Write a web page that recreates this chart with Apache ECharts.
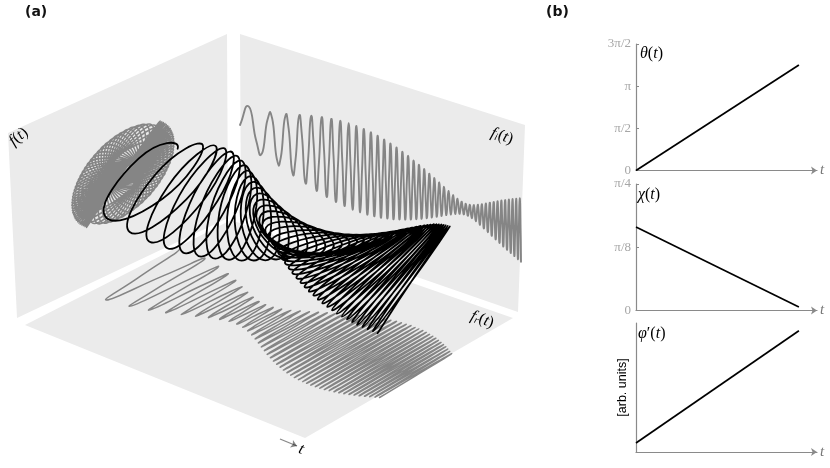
<!DOCTYPE html>
<html>
<head>
<meta charset="utf-8">
<style>
  html, body { margin: 0; padding: 0; background: #fff; }
  #chart { width: 830px; height: 468px; }
</style>
<script src="https://cdn.jsdelivr.net/npm/echarts@6/dist/echarts.min.js"></script>
</head>
<body>
<div id="chart"></div>
<script>
// f(t), sampled four times per turn: time, real part, imaginary part
const tValues = [
  0, .0316, .0568, .0783, .0974, .1147, .1307, .1456, .1597, .173, .1857, .1978, .2094, .2206, .2316, .242,
  .2522, .262, .2716, .281, .2902, .299, .3078, .3163, .3247, .3328, .3409, .3488, .3565, .3641, .3717, .3791,
  .3863, .3935, .4006, .4075, .4144, .4212, .4278, .4345, .441, .4474, .4537, .46, .4662, .4724, .4785, .4845,
  .4904, .4964, .5022, .508, .5137, .5194, .5251, .5306, .5361, .5416, .547, .5524, .5578, .563, .5683, .5735,
  .5787, .5838, .5889, .5939, .5989, .6039, .6089, .6138, .6187, .6235, .6284, .6331, .6378, .6425, .6472, .6519,
  .6565, .6612, .6658, .6702, .6748, .6794, .6838, .6882, .6927, .697, .7014, .7057, .7101, .7144, .7186, .7229,
  .7272, .7313, .7355, .7396, .7438, .7479, .7521, .7561, .7603, .7643, .7683, .7723, .7763, .7802, .7842, .7881,
  .792, .796, .7999, .8037, .8075, .8114, .8152, .819, .8227, .8266, .8303, .8341, .8378, .8414, .8452, .8489,
  .8525, .8562, .8598, .8634, .867, .8706, .8742, .8778, .8813, .8849, .8884, .892, .8954, .8989, .9025, .906,
  .9094, .9129, .9162, .9197, .9231, .9265, .9299, .9332, .9366, .94, .9433, .9467, .95, .9533, .9566, .9598,
  .9632, .9665, .9697, .973, .9762, .9794, .9827, .9859, .9891, .9922, .9954, .9986, 1
]
const realValues = [
  .865, -.059, -.855, .14, .823, -.195, -.776, .236, .728, -.265, -.674, .29, .619, -.305, -.561, .319,
  .505, -.328, -.445, .333, .387, -.339, -.329, .338, .271, -.338, -.214, .337, .159, -.332, -.104, .327,
  .05, -.322, .002, .316, -.054, -.307, .103, .299, -.153, -.292, .199, .282, -.245, -.273, .29, .264,
  -.333, -.255, .376, .245, -.415, -.234, .454, .224, -.491, -.214, .529, .204, -.562, -.194, .594, .183,
  -.625, -.174, .656, .164, -.686, -.154, .711, .145, -.736, -.136, .76, .127, -.784, -.118, .807, .109,
  -.826, -.101, .844, .093, -.862, -.085, .879, .077, -.896, -.07, .912, .063, -.922, -.056, .932, .05,
  -.943, -.043, .953, .037, -.963, -.031, .971, .025, -.975, -.021, .978, .016, -.982, -.011, .985, .007,
  -.988, -.002, .992, -.001, -.99, .005, .987, -.008, -.985, .011, .982, -.014, -.98, .017, .977, -.02,
  -.973, .021, .965, -.022, -.957, .024, .949, -.025, -.942, .026, .934, -.028, -.926, .029, .917, -.029,
  -.904, .029, .891, -.029, -.879, .028, .867, -.028, -.854, .028, .842, -.028, -.83, .027, .814, -.026,
  -.797, .025, .782, -.023, -.767, .022, .75, -.021, -.735, .02, .718, -.018, -.707
]
const imagValues = [
  0, .482, -.194, -.444, .331, .405, -.438, -.367, .528, .33, -.603, -.295, .667, .261, -.72, -.229,
  .769, .199, -.806, -.17, .841, .142, -.869, -.117, .89, .092, -.91, -.069, .924, .048, -.932, -.028,
  .94, .009, -.947, .009, .944, -.025, -.941, .04, .939, -.055, -.933, .067, .921, -.079, -.91, .09,
  .898, -.102, -.885, .11, .866, -.118, -.847, .125, .828, -.133, -.81, .139, .787, -.143, -.763, .147,
  .739, -.151, -.715, .156, .691, -.159, -.663, .16, .635, -.162, -.607, .163, .58, -.165, -.553, .166,
  .523, -.165, -.492, .164, .462, -.164, -.431, .163, .401, -.162, -.372, .16, .34, -.158, -.309, .155,
  .277, -.153, -.246, .15, .216, -.148, -.185, .144, .153, -.141, -.122, .137, .091, -.134, -.061, .131,
  .031, -.128, 0, .124, -.029, -.12, .059, .116, -.088, -.112, .118, .108, -.147, -.104, .175, .1,
  -.203, -.095, .231, .091, -.259, -.087, .286, .083, -.313, -.079, .34, .075, -.365, -.071, .391, .067,
  -.415, -.063, .44, .059, -.464, -.055, .488, .051, -.513, -.048, .532, .044, -.555, -.04, .575, .037,
  -.596, -.034, .616, .031, -.635, -.028, .654, .025, -.673, -.022, .693, .019, -.707
]
// where the turn would have come from just before t = 0, only sets the direction of the first stroke
const leadIn = { t: -0.03, re: 0.05, im: -0.49 }

// the three grey planes, corners
const leftWallCorners = [[8, 133], [227, 34], [228, 218], [17, 318]]
const backWallCorners = [[240, 34], [525, 125], [518, 312], [241, 216]]
const floorCorners = [[25, 325], [231, 220], [513, 318], [305, 438]]

// panel (b)
const rightTimes = [0, 0.9]
const thetaValues = [0, 1.25]
const chiValues = [0.165, 0.007]
const phaseRateValues = [0.07, 0.94]
const thetaTickLabels = ['0', 'π/2', 'π', '3π/2']
const chiTickLabels = ['0', 'π/8', 'π/4']

// view of the 3D box: screen offset of the origin and of one unit of t, real and imaginary
const project = (origin, t, re, im, reRise = 30.4) => [
  origin[0] + 281 * t + 51.6 * re,
  origin[1] + 105 * t - reRise * re - 45 * im
]
// each view gets its sampled points plus the lead-in point
const sampled = view => ({
  before: view(leadIn.t, leadIn.re, leadIn.im),
  points: tValues.map((t, k) => view(t, realValues[k], imagValues[k]))
})
const curve3d = sampled((t, re, im) => project([133, 175], t, re, im))
const curveBackWall = sampled((t, re, im) => project([240, 125], t, 0, im))
// the floor comes closer to the viewer with t, so its real axis opens up slightly
const curveFloor = sampled((t, re, im) => project([135, 271], t, re, 0, 26.8 + 3.6 * t))
const curveLeftWall = sampled((t, re, im) => project([123, 174], 0, re, im))

const MATH_FONT = '"Liberation Serif", serif'
const GREY_CURVE = '#858585'

const mathRich = {
  i: { fontFamily: MATH_FONT, fontStyle: 'italic', fontSize: 16, color: '#111' },
  n: { fontFamily: MATH_FONT, fontSize: 16, color: '#111' },
  s: { fontFamily: MATH_FONT, fontStyle: 'italic', fontSize: 10, color: '#111', verticalAlign: 'bottom' }
}

const panelSeries = corners => ({
  type: 'custom',
  xAxisIndex: 0,
  yAxisIndex: 0,
  silent: true,
  clip: false,
  data: [0],
  renderItem: (params, api) => ({
    type: 'polygon',
    shape: { points: corners.map(p => api.coord(p)) },
    style: { fill: '#ebebeb' }
  })
})

// line series clamp their smoothing to each segment's box, which flattens tilted loops,
// so the curves go through the samples as one bezier path on the same axes
const curvePath = (before, points) => {
  const at = k => (k < 0 ? before : points[Math.min(points.length - 1, k)])
  let d = `M${at(0)[0]} ${at(0)[1]}`
  for (let k = 0; k < points.length - 1; k++) {
    const [p0, p1, p2, p3] = [at(k - 1), at(k), at(k + 1), at(k + 2)]
    const c1 = [p1[0] + (p2[0] - p0[0]) * 0.276, p1[1] + (p2[1] - p0[1]) * 0.276]
    const c2 = [p2[0] - (p3[0] - p1[0]) * 0.276, p2[1] - (p3[1] - p1[1]) * 0.276]
    d += `C${c1[0]} ${c1[1]} ${c2[0]} ${c2[1]} ${p2[0]} ${p2[1]}`
  }
  return d
}

const curveSeries = (curve, color, width) => ({
  type: 'custom',
  xAxisIndex: 0,
  yAxisIndex: 0,
  silent: true,
  clip: false,
  data: [0],
  renderItem: (params, api) => ({
    type: 'path',
    shape: { pathData: curvePath(api.coord(curve.before), curve.points.map(p => api.coord(p))) },
    style: { fill: 'none', stroke: color, lineWidth: width, lineJoin: 'round', lineCap: 'round' }
  })
})

const rightLine = (index, values) => ({
  type: 'line',
  xAxisIndex: index,
  yAxisIndex: index,
  data: rightTimes.map((t, k) => [t, values[k]]),
  symbol: 'none',
  silent: true,
  lineStyle: { color: '#000', width: 1.7 }
})

const timeAxis = gridIndex => ({
  type: 'value',
  gridIndex,
  min: 0,
  max: 1,
  name: 't',
  nameLocation: 'end',
  nameGap: 3,
  nameTextStyle: { fontFamily: MATH_FONT, fontStyle: 'italic', fontSize: 15, color: '#777' },
  axisLine: { show: true, symbol: ['none', 'arrow'], symbolSize: [6, 6], lineStyle: { color: '#8a8a8a', width: 1.2 } },
  axisTick: { show: false },
  axisLabel: { show: false },
  splitLine: { show: false }
})

const valueAxis = (gridIndex, max, interval, labels) => ({
  type: 'value',
  gridIndex,
  min: 0,
  max,
  interval,
  axisLine: { show: true, lineStyle: { color: '#8a8a8a', width: 1.2 } },
  axisTick: { show: true, inside: true, length: 3, lineStyle: { color: '#8a8a8a', width: 1 } },
  axisLabel: {
    margin: 5,
    fontFamily: MATH_FONT,
    fontSize: 13,
    color: '#a6a6a6',
    formatter: value => labels[Math.round(value / interval)]
  },
  splitLine: { show: false }
})

// math labels, above the panels
const mathLabel = (text, x, y, rotation = 0) => ({
  type: 'text', x, y, rotation, z: 20, style: { text, rich: mathRich }
})

const option = {
  animation: false,
  backgroundColor: '#fff',
  grid: [
    { left: 0, top: 0, width: 540, height: 468 },
    { left: 636, top: 44, width: 181, height: 126.5 },
    { left: 636, top: 184, width: 181, height: 126.5 },
    { left: 636, top: 323, width: 181, height: 129 }
  ],
  xAxis: [
    { type: 'value', gridIndex: 0, min: 0, max: 540, show: false },
    timeAxis(1),
    timeAxis(2),
    timeAxis(3)
  ],
  yAxis: [
    { type: 'value', gridIndex: 0, min: 0, max: 468, inverse: true, show: false },
    valueAxis(1, 1.5, 0.5, thetaTickLabels),
    valueAxis(2, 0.25, 0.125, chiTickLabels),
    {
      type: 'value',
      gridIndex: 3,
      min: 0,
      max: 1,
      name: '[arb. units]',
      nameLocation: 'middle',
      nameRotate: 90,
      nameGap: 7,
      nameTextStyle: { fontFamily: '"Liberation Sans", sans-serif', fontSize: 12.5, color: '#000' },
      axisLine: { show: true, lineStyle: { color: '#8a8a8a', width: 1.2 } },
      axisTick: { show: false },
      axisLabel: { show: false },
      splitLine: { show: false }
    }
  ],
  series: [
    panelSeries(leftWallCorners),
    panelSeries(backWallCorners),
    panelSeries(floorCorners),
    curveSeries(curveLeftWall, GREY_CURVE, 1.6),
    curveSeries(curveBackWall, GREY_CURVE, 1.9),
    curveSeries(curveFloor, GREY_CURVE, 1.5),
    curveSeries(curve3d, '#000', 1.8),
    {
      type: 'lines',
      coordinateSystem: 'cartesian2d',
      xAxisIndex: 0,
      yAxisIndex: 0,
      silent: true,
      symbol: ['none', 'arrow'],
      symbolSize: 6,
      lineStyle: { color: '#111', width: 1.2 },
      data: [{ coords: [[280, 439], [297, 446]] }]
    },
    rightLine(1, thetaValues),
    rightLine(2, chiValues),
    rightLine(3, phaseRateValues)
  ],
  graphic: [
    { type: 'text', left: 25, top: 5, style: { text: '(a)', font: 'bold 14px "DejaVu Sans"', fill: '#111' } },
    { type: 'text', left: 546, top: 5, style: { text: '(b)', font: 'bold 14px "DejaVu Sans"', fill: '#111' } },
    mathLabel('{i|f}{n|(}{i|t}{n|)}', 6, 137, 0.7),
    mathLabel('{i|f}{s|i}{n|(}{i|t}{n|)}', 494, 125, -0.33),
    mathLabel('{i|f}{s|r}{n|(}{i|t}{n|)}', 474, 308, -0.35),
    mathLabel('{i|t}', 302, 441, -0.35),
    mathLabel('{i|θ}{n|(}{i|t}{n|)}', 640, 46),
    mathLabel('{i|χ}{n|(}{i|t}{n|)}', 638, 187),
    mathLabel('{i|φ}{n|′(}{i|t}{n|)}', 638, 326)
  ]
}

const chart = echarts.init(document.getElementById('chart'), null, { renderer: 'canvas' })
chart.setOption(option)
</script>
</body>
</html>
